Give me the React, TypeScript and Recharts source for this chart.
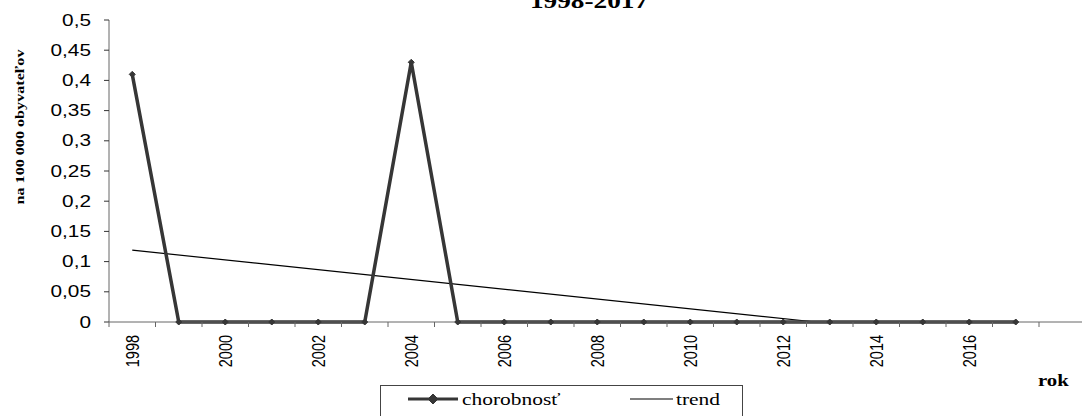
import React from "react";
import { LineChart, Line, XAxis, YAxis } from "recharts";

const YEARS = [
  1998, 1999, 2000, 2001, 2002, 2003, 2004, 2005, 2006, 2007,
  2008, 2009, 2010, 2011, 2012, 2013, 2014, 2015, 2016, 2017,
];
const CHOROBNOST = [
  0.41, 0, 0, 0, 0, 0, 0.43, 0, 0, 0,
  0, 0, 0, 0, 0, 0, 0, 0, 0, 0,
];
// trend line as it appears: starts at 1998 and is cut off where it meets 0
const TREND_YEARS = [1998, 2012.7];
const TREND_VALUES = [0.119, 0];

const Y_TICKS = [0, 0.05, 0.1, 0.15, 0.2, 0.25, 0.3, 0.35, 0.4, 0.45, 0.5];
const X_LABELS = [1998, 2000, 2002, 2004, 2006, 2008, 2010, 2012, 2014, 2016];

const TITLE = "1998-2017";
const Y_TITLE = "na 100 000 obyvateľov";
const X_TITLE = "rok";
const SERIES_NAME = "chorobnosť";
const TREND_NAME = "trend";

const data = YEARS.map((year, i) => ({ year, value: CHOROBNOST[i] }));
const trendData = TREND_YEARS.map((year, i) => ({ year, trend: TREND_VALUES[i] }));
const xTicks = [...YEARS.map((y) => y - 0.5), 2017.5, 2018.5, ...X_LABELS];

const STRETCH = 1.3;
const SANS = "'Liberation Sans', Arial, sans-serif";
const SERIF = "'Liberation Serif', 'Times New Roman', serif";
const LINE_COLOR = "#363636";
const AXIS_COLOR = "#666";
const X_TICK_SIZE = 5;
const X_TICK_MARGIN = 8;

const fmt = (v: number) => String(v).replace(".", ",");

function Diamond({ cx, cy, r = 6 }: any) {
  if (cx == null || cy == null) return null;
  return (
    <polygon
      points={`${cx},${cy - r} ${cx + r},${cy} ${cx},${cy + r} ${cx - r},${cy}`}
      fill={LINE_COLOR}
      stroke={LINE_COLOR}
    />
  );
}

function YTick({ x, y, payload }: any) {
  return (
    <text
      transform={`translate(${x},${y}) scale(${STRETCH},1)`}
      textAnchor="end"
      dy="0.35em"
      fontFamily={SANS}
      fontSize={16}
      fill="#000"
    >
      {fmt(payload.value)}
    </text>
  );
}

function XTick({ x, y, payload }: any) {
  const v = payload.value;
  const axisY = y - X_TICK_SIZE - X_TICK_MARGIN;
  if (v % 1 !== 0) {
    return <line x1={x} x2={x} y1={axisY} y2={axisY + X_TICK_SIZE} stroke={AXIS_COLOR} />;
  }
  return (
    <text
      transform={`translate(${x},${y}) scale(${STRETCH},1) rotate(-90)`}
      textAnchor="end"
      dy="0.35em"
      fontFamily={SANS}
      fontSize={14.5}
      fill="#000"
    >
      {v}
    </text>
  );
}

export default function App() {
  return (
    <div
      style={{
        position: "fixed",
        left: 0,
        top: 0,
        width: 1082,
        height: 416,
        overflow: "hidden",
        background: "#fff",
      }}
    >
      <LineChart
        width={1100}
        height={416}
        data={data}
        margin={{ top: 20, right: 14.5, left: 0, bottom: 0 }}
      >
        <XAxis
          dataKey="year"
          type="number"
          domain={[1997.5, 2018.5]}
          ticks={xTicks}
          interval={0}
          height={94}
          tickSize={X_TICK_SIZE}
          tickMargin={X_TICK_MARGIN}
          tickLine={false}
          stroke={AXIS_COLOR}
          tick={<XTick />}
        />
        <YAxis
          type="number"
          domain={[0, 0.5]}
          ticks={Y_TICKS}
          interval={0}
          width={109}
          tickSize={5}
          tickMargin={13}
          stroke={AXIS_COLOR}
          tickLine={{ stroke: "#333" }}
          tick={<YTick />}
        />
        <Line
          data={trendData}
          dataKey="trend"
          stroke="#000"
          strokeWidth={1.2}
          dot={false}
          activeDot={false}
          isAnimationActive={false}
        />
        <Line
          dataKey="value"
          stroke={LINE_COLOR}
          strokeWidth={3.5}
          dot={<Diamond />}
          activeDot={false}
          isAnimationActive={false}
        />

        <text
          transform={`translate(589,8) scale(${STRETCH},1)`}
          textAnchor="middle"
          fontFamily={SERIF}
          fontWeight="bold"
          fontSize={21}
        >
          {TITLE}
        </text>
        <text
          transform="translate(19,127) rotate(-90)"
          textAnchor="middle"
          dy="0.35em"
          fontFamily={SERIF}
          fontWeight="bold"
          fontSize={13}
          textLength={155}
          lengthAdjust="spacingAndGlyphs"
        >
          {Y_TITLE}
        </text>
        <text
          transform={`translate(1038,386) scale(${STRETCH},1)`}
          fontFamily={SERIF}
          fontWeight="bold"
          fontSize={16}
        >
          {X_TITLE}
        </text>

        <g>
          <rect x={380.5} y={385.5} width={362} height={40} fill="#fff" stroke="#444" />
          <line x1={408} x2={458} y1={399} y2={399} stroke={LINE_COLOR} strokeWidth={3} />
          <Diamond cx={433} cy={399} r={5} />
          <text
            transform={`translate(462,405) scale(${STRETCH},1)`}
            fontFamily={SERIF}
            fontSize={16.5}
          >
            {SERIES_NAME}
          </text>
          <line x1={630} x2={673} y1={399} y2={399} stroke="#000" strokeWidth={1.2} />
          <text
            transform={`translate(676,405) scale(${STRETCH},1)`}
            fontFamily={SERIF}
            fontSize={16.5}
          >
            {TREND_NAME}
          </text>
        </g>
      </LineChart>
    </div>
  );
}
